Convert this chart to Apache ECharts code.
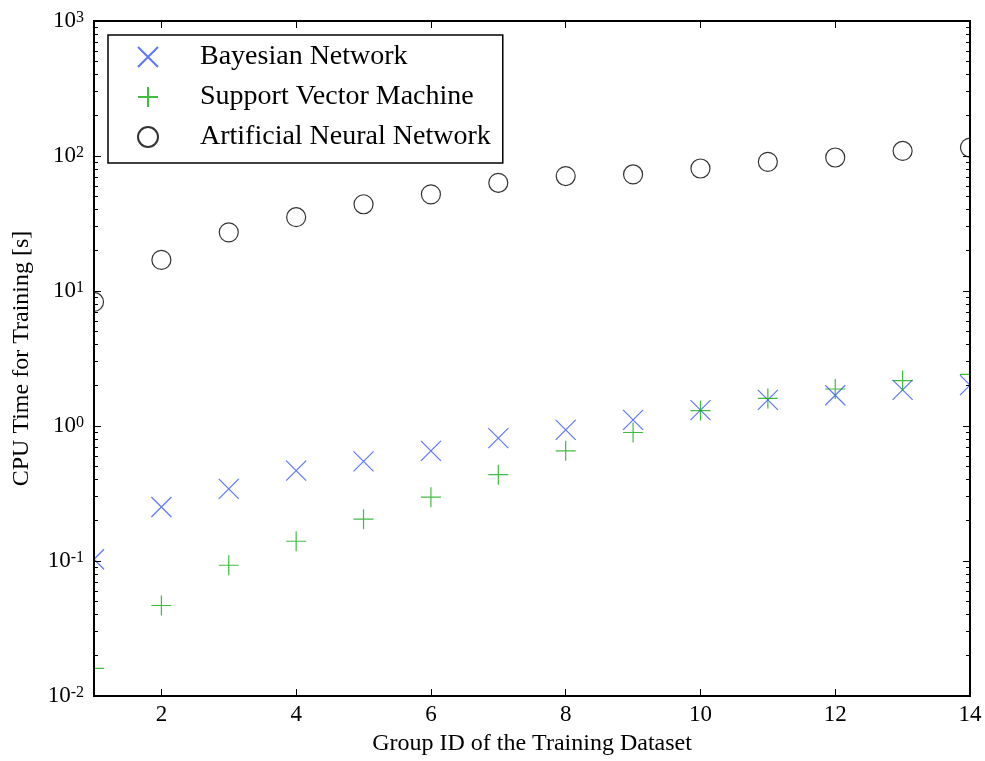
<!DOCTYPE html>
<html>
<head>
<meta charset="utf-8">
<script src="https://cdn.jsdelivr.net/npm/echarts@6/dist/echarts.min.js"></script>
<style>
html,body{margin:0;padding:0;background:#fff;}
#chart{width:985px;height:761px;}
</style>
</head>
<body>
<div id="chart"></div>
<script>
const groupIds = [1, 2, 3, 4, 5, 6, 7, 8, 9, 10, 11, 12, 13, 14];
const bayesianNetwork = [0.103, 0.251, 0.342, 0.467, 0.547, 0.655, 0.813, 0.935, 1.11, 1.31, 1.56, 1.69, 1.85, 2.01];
const supportVectorMachine = [0.016, 0.0468, 0.093, 0.140, 0.204, 0.297, 0.436, 0.655, 0.895, 1.30, 1.60, 1.88, 2.17, 2.41];
const artificialNeuralNetwork = [8.3, 17.0, 27.2, 35.2, 43.9, 52.0, 63.3, 71.0, 73.0, 80.8, 90.5, 97.5, 109, 115.5];
const seriesNames = ['Bayesian Network', 'Support Vector Machine', 'Artificial Neural Network'];
const xTickValues = [2, 4, 6, 8, 10, 12, 14];
const yMajorValues = [0.01, 0.1, 1, 10, 100, 1000];
const yMinorValues = [];
for (let e = -2; e < 3; e++) {
  for (let m = 2; m <= 9; m++) yMinorValues.push(parseFloat((m * Math.pow(10, e)).toPrecision(3)));
}

const FONT = 'Liberation Serif';
const pairs = (vals) => groupIds.map((g, i) => [g, vals[i]]);

const GRID = {left: 94, right: 15, top: 21, bottom: 62};

const chart = echarts.init(document.getElementById('chart'), null, {renderer: 'canvas'});

function yAxisDef(opts) {
  return Object.assign({
    type: 'log', logBase: 10, min: 0.01, max: 1000,
    splitLine: {show: false},
    axisLine: {show: true, lineStyle: {color: '#000', width: 2}},
    axisLabel: {show: false},
    z: 10
  }, opts);
}
function xAxisDef(opts) {
  return Object.assign({
    type: 'value', min: 1, max: 14,
    splitLine: {show: false},
    axisLine: {show: true, onZero: false, lineStyle: {color: '#000', width: 2}},
    axisTick: {show: true, inside: true, length: 7, lineStyle: {color: '#000', width: 1}, customValues: xTickValues},
    axisLabel: {show: false},
    z: 10
  }, opts);
}

const option = {
  backgroundColor: '#fff',
  animation: false,
  grid: GRID,
  legend: {
    orient: 'vertical',
    left: 108, top: 35,
    padding: [8, 12, 12, 29],
    itemGap: 12,
    itemWidth: 20, itemHeight: 20,
    borderColor: '#000', borderWidth: 1.5,
    backgroundColor: '#fff',
    selectedMode: false,
    textStyle: {fontFamily: FONT, fontSize: 28, color: '#000', lineHeight: 28, padding: [0, 0, 0, 37]},
    data: seriesNames,
    z: 20
  },
  xAxis: [
    xAxisDef({
      position: 'bottom',
      name: 'Group ID of the Training Dataset',
      nameLocation: 'middle', nameGap: 36,
      nameTextStyle: {fontFamily: FONT, fontSize: 24, color: '#000'},
      axisLabel: {show: true, customValues: xTickValues, fontFamily: FONT, fontSize: 23, color: '#000', margin: 7}
    }),
    xAxisDef({position: 'top'})
  ],
  yAxis: [
    yAxisDef({
      position: 'left',
      name: 'CPU Time for Training [s]',
      nameLocation: 'middle', nameGap: 60,
      nameTextStyle: {fontFamily: FONT, fontSize: 24, color: '#000'},
      axisTick: {show: true, inside: true, length: 7, lineStyle: {color: '#000', width: 1}, customValues: yMajorValues},
      axisLabel: {
        show: true, customValues: yMajorValues, margin: 10,
        formatter: function (v) {
          const e = Math.round(Math.log10(v));
          return '{b|10}{s|' + e + '}';
        },
        rich: {
          b: {fontFamily: FONT, fontSize: 23, color: '#000', lineHeight: 23, verticalAlign: 'bottom'},
          s: {fontFamily: FONT, fontSize: 16, color: '#000', lineHeight: 16, verticalAlign: 'top', padding: [0, 0, 3, 0]}
        }
      }
    }),
    yAxisDef({
      position: 'left',
      axisTick: {show: true, inside: true, length: 4, lineStyle: {color: '#000', width: 1}, customValues: yMinorValues}
    }),
    yAxisDef({
      position: 'right',
      axisTick: {show: true, inside: true, length: 7, lineStyle: {color: '#000', width: 1}, customValues: yMajorValues}
    }),
    yAxisDef({
      position: 'right',
      axisTick: {show: true, inside: true, length: 4, lineStyle: {color: '#000', width: 1}, customValues: yMinorValues}
    })
  ],
  series: [
    {
      name: seriesNames[0], type: 'scatter', xAxisIndex: 0, yAxisIndex: 0,
      symbol: 'path://M0,0L20,20M20,0L0,20', symbolSize: 20,
      itemStyle: {color: 'rgba(0,0,0,0)', borderColor: '#3355ff', borderWidth: 1.2},
      emphasis: {disabled: true},
      data: pairs(bayesianNetwork), z: 3
    },
    {
      name: seriesNames[1], type: 'scatter', xAxisIndex: 0, yAxisIndex: 0,
      symbol: 'path://M10,0L10,20M0,10L20,10', symbolSize: 20,
      itemStyle: {color: 'rgba(0,0,0,0)', borderColor: '#11aa11', borderWidth: 1.2},
      emphasis: {disabled: true},
      data: pairs(supportVectorMachine), z: 4
    },
    {
      name: seriesNames[2], type: 'scatter', xAxisIndex: 0, yAxisIndex: 0,
      symbol: 'circle', symbolSize: 19,
      itemStyle: {color: 'rgba(0,0,0,0)', borderColor: '#000', borderWidth: 1.2},
      emphasis: {disabled: true},
      data: pairs(artificialNeuralNetwork), z: 2
    }
  ],
  graphic: [
    {type: 'rect', z: 8, silent: true, shape: {x: 83, y: 10, width: 10, height: 700}, style: {fill: '#fff'}},
    {type: 'rect', z: 8, silent: true, shape: {x: 971, y: 10, width: 14, height: 700}, style: {fill: '#fff'}}
  ]
};
chart.setOption(option);
</script>
</body>
</html>
